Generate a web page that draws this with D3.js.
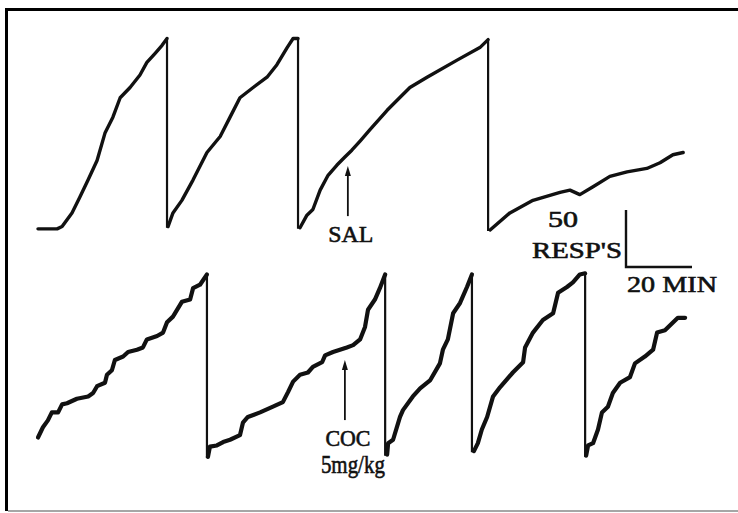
<!DOCTYPE html>
<html>
<head>
<meta charset="utf-8">
<script src="https://cdn.jsdelivr.net/npm/d3@7"></script>
<style>
  html, body { margin: 0; padding: 0; background: #fff; }
  svg { display: block; }
  text { font-family: "Liberation Serif", "DejaVu Serif", serif; fill: #111; stroke: #111; stroke-width: 0.6; }
</style>
</head>
<body>
<svg id="chart" width="738" height="513"></svg>
<script>
'use strict'

// cumulative records: each segment is one pen stroke [minutes, responses]
// the pen resets to zero between segments
var topRecord = [
  [[0.3, 1], [6.1, 1], [7.6, 3], [10.6, 15], [13, 29], [15.5, 44], [18.2, 61], [20.6, 85],
   [23, 99], [25.2, 116], [28.2, 125], [31.2, 136], [33.3, 147], [35.8, 155], [37.9, 162], [39.4, 168]],
  [[39.7, 3], [41.2, 15], [43.9, 26], [47.3, 44], [51.5, 68], [55.5, 82], [58.5, 99], [61.5, 116],
   [65.5, 125], [69.7, 134], [72.7, 145], [75.8, 160], [77.6, 168], [79.1, 168]],
  [[79.7, 2], [81.8, 13], [83.6, 18], [85.8, 35], [88.2, 48], [90.9, 57], [93.3, 64], [95.4, 70],
   [97.9, 78], [100.9, 88], [106.1, 105], [113, 125], [118.2, 134], [127.3, 149], [134.2, 160], [136.7, 167]],
  [[137.3, 0], [143.3, 15], [150.3, 26], [158.5, 33], [161.5, 35], [164.5, 31], [168.5, 38], [173.6, 47],
   [178.8, 51], [184.8, 54], [188.8, 59], [192.7, 66], [195.8, 68]]
]

var bottomRecord = [
  [[0.3, 18], [1.8, 27], [3.3, 33], [4.5, 40], [6.4, 40], [7.6, 47], [9.1, 48], [12.1, 52], [15.5, 54],
   [17, 57], [18.2, 63], [20.6, 66], [21.2, 73], [22.7, 77], [23.6, 86], [26.1, 89], [27.6, 93], [30.3, 95],
   [32.1, 97], [33.3, 104], [36.4, 107], [38.2, 110], [39.4, 119], [41.2, 124], [43.9, 137], [46.4, 139],
   [47.3, 149], [49.4, 152], [51.5, 161]],
  [[51.8, 1], [52.4, 10], [54.5, 11], [56.4, 14], [58.5, 16], [61.5, 20], [62.4, 31], [63.9, 36], [67.6, 40],
   [71.5, 45], [74.5, 49], [76.1, 58], [77.6, 67], [79.7, 73], [82.1, 75], [83.6, 80], [86.4, 84], [87.3, 90],
   [89.7, 93], [93.9, 97], [95.8, 99], [97.9, 104], [99.4, 115], [100.3, 130], [102.4, 139], [103.9, 149], [105.5, 161]],
  [[106.1, 3], [106.4, 13], [107.9, 16], [110, 36], [110.9, 42], [113.9, 54], [116.1, 61], [119.1, 68],
   [122.1, 83], [123, 95], [124.5, 104], [126.1, 127], [128.2, 136], [130.3, 150], [131.8, 161]],
  [[132.4, 6], [133.6, 13], [134.8, 25], [136.4, 36], [138.2, 54], [140.3, 62], [144.2, 75], [147.3, 84],
   [147.9, 97], [150.3, 110], [153.3, 121], [156.4, 127], [157.9, 145], [160.6, 150], [162.4, 154], [164.5, 161], [166.1, 162]],
  [[166.4, 2], [167, 11], [168.5, 13], [170, 25], [171.2, 40], [173, 45], [174.5, 57], [176.7, 66], [179.7, 71],
   [181.2, 83], [184.2, 89], [186.7, 95], [187.9, 110], [190.3, 112], [192.4, 118], [194.2, 123], [196.4, 123]]
]

// injections marked with arrows under the record
var events = [
  { row: 'top', t: 94.2, label: ['SAL'] },
  { row: 'bottom', t: 93.3, label: ['COC', '5mg/kg'] }
]

var scaleResp = 50, scaleMin = 20
var scaleLabels = ['50', "RESP'S", '20 MIN']

var svg = d3.select('#chart')

var x = d3.scaleLinear().domain([0, 200]).range([37, 697])
var yScales = {
    top: d3.scaleLinear().domain([0, 200]).range([230, 2])
  , bottom: d3.scaleLinear().domain([0, 200]).range([458, 230])
}

// frame
svg.append('line').attr('x1', 6.5).attr('x2', 6.5).attr('y1', 8).attr('y2', 511)
  .attr('stroke', '#000').attr('stroke-width', 3)
svg.append('line').attr('x1', 5).attr('x2', 738).attr('y1', 9.5).attr('y2', 9.5)
  .attr('stroke', '#000').attr('stroke-width', 3)
svg.append('line').attr('x1', 8).attr('x2', 738).attr('y1', 511).attr('y2', 511)
  .attr('stroke', '#888').attr('stroke-width', 1.5)

function drawRecord(segments, y, width) {
  var line = d3.line().x(function(d) { return x(d[0]) }).y(function(d) { return y(d[1]) })
  var g = svg.append('g')
  // pen resets
  for (var i = 0; i < segments.length - 1; i++) {
    var a = segments[i][segments[i].length - 1], b = segments[i + 1][0]
    g.append('path').attr('d', line([a, [a[0], b[1]], b]))
      .attr('fill', 'none').attr('stroke', '#111').attr('stroke-width', 2.2)
  }
  g.selectAll('path.seg').data(segments).enter().append('path')
    .attr('class', 'seg')
    .attr('d', line)
    .attr('fill', 'none')
    .attr('stroke', '#111')
    .attr('stroke-width', width)
    .attr('stroke-linejoin', 'round')
    .attr('stroke-linecap', 'round')
}

drawRecord(topRecord, yScales.top, 3.4)
drawRecord(bottomRecord, yScales.bottom, 4.2)

function valueAt(segments, t) {
  var pts = [].concat.apply([], segments)
  for (var i = 0; i < pts.length - 1; i++) {
    if (pts[i][0] <= t && pts[i + 1][0] >= t) {
      var k = (t - pts[i][0]) / (pts[i + 1][0] - pts[i][0])
      return pts[i][1] + k * (pts[i + 1][1] - pts[i][1])
    }
  }
  return 0
}

// event arrows and labels
var widths = { 'SAL': 45, 'COC': 45, '5mg/kg': 64 }
events.forEach(function(e) {
  var recs = { top: topRecord, bottom: bottomRecord }
  var y = yScales[e.row]
  var ex = x(e.t)
  var tip = y(valueAt(recs[e.row], e.t)) + 12
  var len = e.row === 'top' ? 50 : 60
  svg.append('line').attr('x1', ex).attr('x2', ex).attr('y1', tip + 6).attr('y2', tip + len)
    .attr('stroke', '#111').attr('stroke-width', 1.8)
  svg.append('path')
    .attr('d', 'M' + ex + ',' + tip + 'L' + (ex - 3) + ',' + (tip + 10) + 'L' + (ex + 3) + ',' + (tip + 10) + 'Z')
    .attr('fill', '#111')
  e.label.forEach(function(s, i) {
    svg.append('text')
      .attr('x', ex + (i ? 8 : 3)).attr('y', tip + len + 26 + i * 27)
      .attr('text-anchor', 'middle')
      .attr('font-size', i ? 26 : 23)
      .attr('textLength', widths[s]).attr('lengthAdjust', 'spacingAndGlyphs')
      .text(s)
  })
})

// calibration bar
var bx = 626, by = 267
var barH = yScales.top(0) - yScales.top(scaleResp)
var barW = x(scaleMin) - x(0)
svg.append('path')
  .attr('d', 'M' + bx + ',' + (by - barH) + 'L' + bx + ',' + by + 'L' + (bx + barW) + ',' + by)
  .attr('fill', 'none').attr('stroke', '#111').attr('stroke-width', 2.4)
svg.append('text').attr('x', 548).attr('y', 227).attr('font-size', 23)
  .attr('textLength', 30).attr('lengthAdjust', 'spacingAndGlyphs').text(scaleLabels[0])
svg.append('text').attr('x', 532).attr('y', 258).attr('font-size', 23)
  .attr('textLength', 90).attr('lengthAdjust', 'spacingAndGlyphs').text(scaleLabels[1])
svg.append('text').attr('x', 627).attr('y', 292).attr('font-size', 23)
  .attr('textLength', 90).attr('lengthAdjust', 'spacingAndGlyphs').text(scaleLabels[2])
</script>
</body>
</html>
